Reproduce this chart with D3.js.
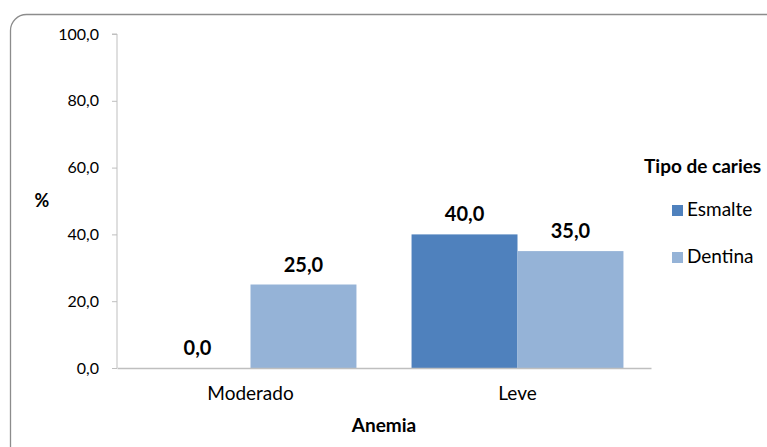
<!DOCTYPE html>
<html>
<head>
<meta charset="utf-8">
<script src="https://cdn.jsdelivr.net/npm/d3@7/dist/d3.min.js"></script>
<style>
  html, body { margin: 0; padding: 0; background: #fff; }
  svg { display: block; font-family: Lato, "Open Sans", sans-serif; }
</style>
</head>
<body>
<svg id="chart" width="767" height="447"></svg>
<script>
// Caries type by anemia level (%)
const categories = ["Moderado", "Leve"];
const seriesNames = ["Esmalte", "Dentina"];
const esmalte = [0.0, 40.0];
const dentina = [25.0, 35.0];
const yTicks = [0, 20, 40, 60, 80, 100];
const colors = ["#4F81BD", "#95B3D7"];

const svg = d3.select("#chart");
const fmt = v => d3.format(".1f")(v).replace(".", ",");

// chart frame (rounded, runs off the right and bottom edges)
svg.append("rect")
  .attr("x", 10.5).attr("y", 14.5)
  .attr("width", 800).attr("height", 480)
  .attr("rx", 16).attr("ry", 16)
  .attr("fill", "#fff").attr("stroke", "#8c8c8c").attr("stroke-width", 1.3);

const plot = { left: 117, right: 651, top: 34, bottom: 368 };

const x0 = d3.scaleBand().domain(categories).range([plot.left, plot.right]).paddingInner(0).paddingOuter(0);
const x1 = d3.scaleBand().domain(seriesNames).range([0, x0.bandwidth()]).paddingInner(0).paddingOuter(0.26);
const y = d3.scaleLinear().domain([0, 100]).range([plot.bottom, plot.top]);

const data = categories.map((c, i) => ({ cat: c, values: [esmalte[i], dentina[i]] }));

// y axis
const yAxis = svg.append("g")
  .attr("transform", `translate(${plot.left},0)`)
  .call(d3.axisLeft(y).tickValues(yTicks).tickFormat(fmt).tickSize(5).tickPadding(13));
yAxis.select(".domain").attr("stroke", "#bfbfbf").attr("d", `M-5,${plot.top}H0V${plot.bottom}`);
yAxis.selectAll(".tick line").attr("stroke", "#bfbfbf");
yAxis.selectAll(".tick text").attr("fill", "#000").style("font-size", "16px").style("font-family", "Lato, sans-serif");

// bars
const groups = svg.append("g").selectAll("g").data(data).join("g")
  .attr("transform", d => `translate(${x0(d.cat)},0)`);

groups.selectAll("rect")
  .data(d => d.values.map((v, j) => ({ name: seriesNames[j], v, j })))
  .join("rect")
  .attr("x", d => x1(d.name))
  .attr("y", d => y(d.v))
  .attr("width", x1.bandwidth())
  .attr("height", d => y(0) - y(d.v))
  .attr("fill", d => colors[d.j]);

groups.selectAll("text")
  .data(d => d.values.map((v, j) => ({ name: seriesNames[j], v, j })))
  .join("text")
  .attr("x", d => x1(d.name) + x1.bandwidth() / 2)
  .attr("y", d => y(d.v) - 13)
  .attr("text-anchor", "middle")
  .attr("font-weight", "bold")
  .attr("font-size", 20)
  .attr("fill", "#000")
  .text(d => fmt(d.v));

// x axis
const xAxis = svg.append("g")
  .attr("transform", `translate(0,${plot.bottom})`)
  .call(d3.axisBottom(x0).tickSize(0).tickPadding(19));
xAxis.select(".domain").attr("stroke", "#bfbfbf").attr("stroke-width", 1.3);
xAxis.selectAll(".tick text").attr("fill", "#000").style("font-size", "19px").style("font-family", "Lato, sans-serif");

// axis titles
svg.append("text")
  .attr("x", (plot.left + plot.right) / 2).attr("y", 432)
  .attr("text-anchor", "middle").attr("font-weight", "bold").attr("font-size", 19)
  .text("Anemia");
svg.append("text")
  .attr("x", 42).attr("y", 207)
  .attr("text-anchor", "middle").attr("font-weight", "bold").attr("font-size", 18)
  .text("%");

// legend
const legend = svg.append("g");
legend.append("text")
  .attr("x", 644).attr("y", 173)
  .attr("font-weight", "bold").attr("font-size", 19)
  .text("Tipo de caries");
const items = legend.selectAll("g.item").data(seriesNames).join("g")
  .attr("class", "item")
  .attr("transform", (d, i) => `translate(672,${205 + i * 47})`);
items.append("rect").attr("width", 11).attr("height", 11).attr("fill", (d, i) => colors[i]);
items.append("text").attr("x", 15).attr("y", 11).attr("font-size", 19).text(d => d);
</script>
</body>
</html>
